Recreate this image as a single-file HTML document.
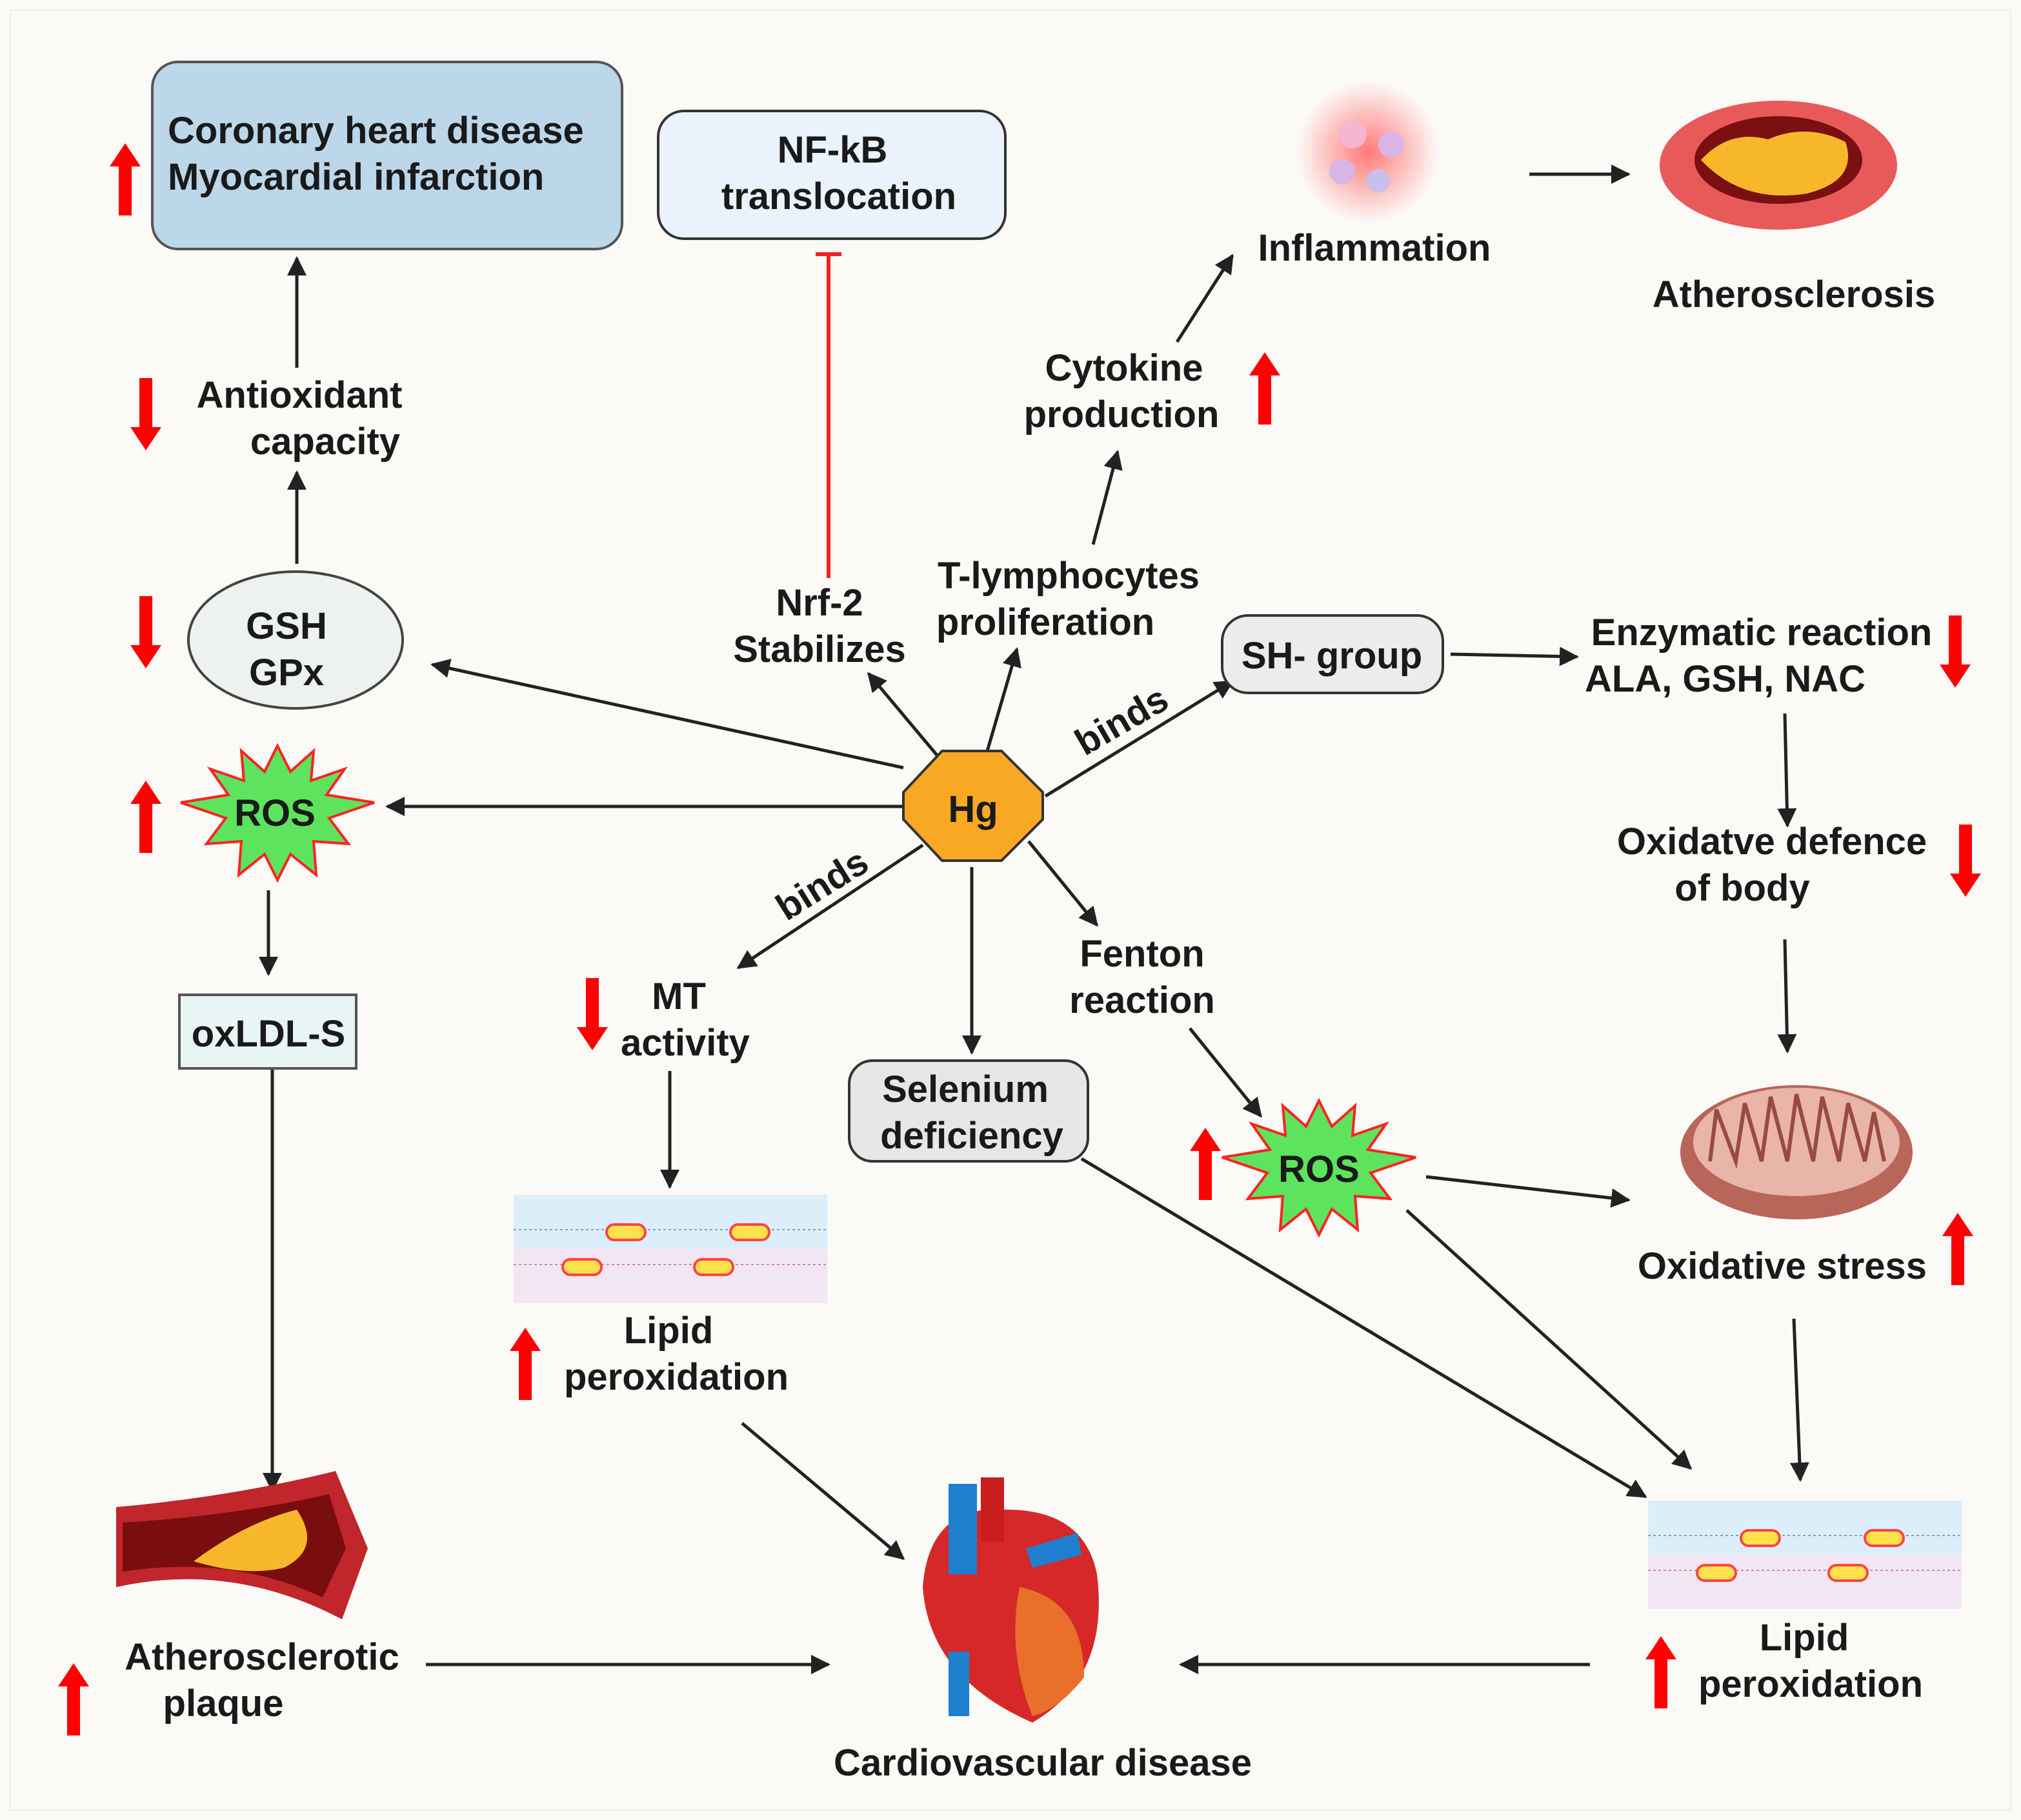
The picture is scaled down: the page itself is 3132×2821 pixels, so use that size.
<!DOCTYPE html>
<html><head><meta charset="utf-8"><style>
html,body{margin:0;padding:0;background:#fbfaf7}
svg{display:block}
text{font-family:"Liberation Sans",sans-serif;font-weight:bold;fill:#1a1a1a;font-size:29px}
</style></head><body>
<svg width="3132" height="2821" viewBox="0 0 1566 1410.5" xmlns="http://www.w3.org/2000/svg">
<defs>
<marker id="a" viewBox="0 0 10 10" refX="9" refY="5" markerWidth="6" markerHeight="6" orient="auto-start-reverse"><path d="M0,0 L10,5 L0,10 z" fill="#222"/></marker>
<radialGradient id="inf"><stop offset="0" stop-color="#ff6b6b" stop-opacity=".9"/><stop offset="1" stop-color="#ff6b6b" stop-opacity="0"/></radialGradient>
<g id="up"><path d="M-5,28 L-5,-10 L-12,-10 L0,-28 L12,-10 L5,-10 L5,28 z" fill="#f00"/></g>
<g id="dn"><path d="M-5,-28 L-5,10 L-12,10 L0,28 L12,10 L5,10 L5,-28 z" fill="#f00"/></g>
<g id="mem">
<rect x="0" y="0" width="243" height="42" fill="#dceefa"/><rect x="0" y="42" width="243" height="42" fill="#f3e6f3"/>
<line x1="0" y1="27" x2="243" y2="27" stroke="#7aa" stroke-dasharray="2 2"/><line x1="0" y1="54" x2="243" y2="54" stroke="#c8a" stroke-dasharray="2 2"/>
<rect x="72" y="23" width="30" height="12" rx="6" fill="#ffe14d" stroke="#f44" stroke-width="2"/>
<rect x="168" y="23" width="30" height="12" rx="6" fill="#ffe14d" stroke="#f44" stroke-width="2"/>
<rect x="38" y="50" width="30" height="12" rx="6" fill="#ffe14d" stroke="#f44" stroke-width="2"/>
<rect x="140" y="50" width="30" height="12" rx="6" fill="#ffe14d" stroke="#f44" stroke-width="2"/>
</g>
<polygon id="star" points="0,-52 10,-32 28,-48 26,-25 52,-34 38,-14 75,-8 40,4 55,24 28,22 30,48 10,32 0,52 -10,32 -30,48 -28,22 -55,24 -40,4 -75,-8 -38,-14 -52,-34 -26,-25 -28,-48 -10,-32" fill="#5ee35e" stroke="#f22" stroke-width="2"/>
</defs>
<rect x="8" y="8" width="1550" height="1395" fill="#fbfaf7" stroke="#eee"/>
<g stroke="#222" stroke-width="2.5" fill="none" marker-end="url(#a)">
<line x1="230" y1="285" x2="230" y2="200"/>
<line x1="230" y1="437" x2="230" y2="366"/>
<line x1="1185" y1="135" x2="1262" y2="135"/>
<line x1="208" y1="690" x2="208" y2="755"/>
<line x1="211" y1="828" x2="211" y2="1155"/>
<line x1="330" y1="1290" x2="642" y2="1290"/>
<line x1="1232" y1="1290" x2="915" y2="1290"/>
<line x1="700" y1="595" x2="335" y2="515"/>
<line x1="700" y1="625" x2="300" y2="625"/>
<line x1="730" y1="590" x2="673" y2="522"/>
<line x1="765" y1="582" x2="788" y2="503"/>
<line x1="810" y1="617" x2="955" y2="528"/>
<line x1="715" y1="655" x2="572" y2="750"/>
<line x1="753" y1="672" x2="753" y2="816"/>
<line x1="797" y1="652" x2="850" y2="717"/>
<line x1="847" y1="422" x2="866" y2="350"/>
<line x1="912" y1="265" x2="955" y2="198"/>
<line x1="1124" y1="507" x2="1222" y2="509"/>
<line x1="1383" y1="553" x2="1385" y2="640"/>
<line x1="1383" y1="728" x2="1385" y2="815"/>
<line x1="1390" y1="1022" x2="1395" y2="1147"/>
<line x1="922" y1="797" x2="977" y2="865"/>
<line x1="1105" y1="912" x2="1262" y2="930"/>
<line x1="1090" y1="938" x2="1310" y2="1138"/>
<line x1="838" y1="898" x2="1275" y2="1160"/>
<line x1="519" y1="830" x2="519" y2="920"/>
<line x1="575" y1="1103" x2="700" y2="1208"/>
</g>
<line x1="642" y1="448" x2="642" y2="197" stroke="#e22" stroke-width="3"/>
<line x1="632" y1="197" x2="652" y2="197" stroke="#e22" stroke-width="3"/>

<rect x="118" y="48" width="364" height="145" rx="20" fill="#bcd6ea" stroke="#555" stroke-width="2"/>
<text x="130" y="111">Coronary heart disease</text><text x="130" y="147">Myocardial infarction</text>
<rect x="510" y="86" width="269" height="99" rx="20" fill="#eaf2fb" stroke="#333" stroke-width="2"/>
<text x="645" y="126" text-anchor="middle">NF-kB</text><text x="650" y="162" text-anchor="middle">translocation</text>
<circle cx="1060" cy="118" r="55" fill="url(#inf)"/>
<circle cx="1048" cy="104" r="11" fill="#f4b6d0"/><circle cx="1078" cy="112" r="10" fill="#d9b5e6"/><circle cx="1040" cy="133" r="10" fill="#d9b5e6"/><circle cx="1068" cy="140" r="9" fill="#c9c0ea"/>
<text x="1065" y="202" text-anchor="middle">Inflammation</text>
<ellipse cx="1378" cy="128" rx="92" ry="50" fill="#e85a5a"/><ellipse cx="1378" cy="124" rx="65" ry="34" fill="#7a1010"/><path d="M1318,124 Q1340,100 1370,108 Q1400,95 1430,110 Q1440,140 1400,150 Q1350,158 1318,124z" fill="#f7b72a"/>
<text x="1390" y="238" text-anchor="middle">Atherosclerosis</text>
<text x="232" y="316" text-anchor="middle">Antioxidant</text><text x="252" y="352" text-anchor="middle">capacity</text>
<ellipse cx="229" cy="496" rx="83" ry="53" fill="#eef2ee" stroke="#444" stroke-width="2"/>
<text x="222" y="495" text-anchor="middle">GSH</text><text x="222" y="531" text-anchor="middle">GPx</text>
<use href="#star" x="215" y="630"/><text x="213" y="640" text-anchor="middle">ROS</text>
<rect x="139" y="771" width="137" height="57" fill="#e9f5f5" stroke="#555" stroke-width="2"/>
<text x="208" y="811" text-anchor="middle">oxLDL-S</text>
<path d="M90,1168 Q180,1160 260,1140 L285,1200 L265,1255 Q180,1210 90,1230z" fill="#c0262b"/>
<path d="M95,1180 Q180,1175 255,1158 L268,1200 L250,1238 Q180,1205 95,1218z" fill="#7a0d0d"/>
<path d="M150,1210 Q190,1180 230,1170 Q250,1200 220,1215 Q190,1222 150,1210z" fill="#f7b72a"/>
<text x="203" y="1294" text-anchor="middle">Atherosclerotic</text><text x="173" y="1330" text-anchor="middle">plaque</text>
<path d="M780,1170 Q720,1165 715,1230 Q720,1300 800,1335 Q860,1300 850,1220 Q840,1170 780,1170z" fill="#d62828"/>
<path d="M790,1230 Q840,1240 840,1300 Q820,1325 800,1330 Q780,1280 790,1230z" fill="#e8702a"/>
<rect x="735" y="1150" width="22" height="70" fill="#1e7fcf"/><rect x="735" y="1280" width="16" height="50" fill="#1e7fcf"/><rect x="760" y="1145" width="18" height="50" fill="#c81e1e"/>
<path d="M795,1200 L835,1188 L838,1205 L800,1215z" fill="#1e7fcf"/>
<text x="808" y="1376" text-anchor="middle">Cardiovascular disease</text>
<polygon points="730,597 776,597 808,629 808,650 776,682 730,682 700,650 700,629" transform="translate(0,-15)" fill="#f8a823" stroke="#333" stroke-width="2"/>
<text x="754" y="637" text-anchor="middle" font-size="33">Hg</text>
<text x="635" y="477" text-anchor="middle">Nrf-2</text><text x="635" y="513" text-anchor="middle">Stabilizes</text>
<text x="828" y="456" text-anchor="middle">T-lymphocytes</text><text x="810" y="492" text-anchor="middle">proliferation</text>
<text x="871" y="295" text-anchor="middle">Cytokine</text><text x="869" y="331" text-anchor="middle">production</text>
<text x="870" y="568" text-anchor="middle" transform="rotate(-30 870 560)">binds</text>
<text x="638" y="695" text-anchor="middle" transform="rotate(-32 638 687)">binds</text>
<rect x="947" y="477" width="171" height="60" rx="20" fill="#ececec" stroke="#333" stroke-width="2"/>
<text x="1032" y="518" text-anchor="middle">SH- group</text>
<text x="1365" y="500" text-anchor="middle">Enzymatic reaction</text><text x="1228" y="536">ALA, GSH, NAC</text>
<text x="1373" y="662" text-anchor="middle">Oxidatve defence</text><text x="1350" y="698" text-anchor="middle">of body</text>
<ellipse cx="1392" cy="893" rx="90" ry="52" fill="#b8655a"/><ellipse cx="1392" cy="885" rx="80" ry="42" fill="#e8b5a8"/>
<path d="M1325,900 L1330,860 L1345,900 L1352,855 L1365,900 L1372,850 L1385,900 L1392,848 L1405,900 L1412,850 L1425,900 L1432,855 L1445,900 L1452,862 L1460,900" fill="none" stroke="#9a4a40" stroke-width="3"/>
<text x="1381" y="991" text-anchor="middle">Oxidative stress</text>
<use href="#mem" x="1277" y="1163"/>
<text x="1398" y="1279" text-anchor="middle">Lipid</text><text x="1403" y="1315" text-anchor="middle">peroxidation</text>
<use href="#star" x="1022" y="905"/><text x="1022" y="916" text-anchor="middle">ROS</text>
<text x="885" y="749" text-anchor="middle">Fenton</text><text x="885" y="785" text-anchor="middle">reaction</text>
<rect x="658" y="822" width="185" height="78" rx="18" fill="#e6e6e6" stroke="#333" stroke-width="2"/>
<text x="748" y="854" text-anchor="middle">Selenium</text><text x="753" y="890" text-anchor="middle">deficiency</text>
<text x="526" y="782" text-anchor="middle">MT</text><text x="531" y="818" text-anchor="middle">activity</text>
<use href="#mem" x="398" y="926"/>
<text x="518" y="1041" text-anchor="middle">Lipid</text><text x="524" y="1077" text-anchor="middle">peroxidation</text>
<use href="#up" x="97" y="139"/><use href="#dn" x="113" y="321"/><use href="#dn" x="113" y="490"/><use href="#up" x="113" y="633"/>
<use href="#up" x="57" y="1317"/><use href="#up" x="980" y="301"/><use href="#dn" x="1515" y="505"/><use href="#dn" x="1523" y="667"/>
<use href="#up" x="1517" y="968"/><use href="#up" x="1287" y="1296"/><use href="#up" x="934" y="902"/><use href="#dn" x="459" y="786"/><use href="#up" x="407" y="1057"/>
</svg>
</body></html>
